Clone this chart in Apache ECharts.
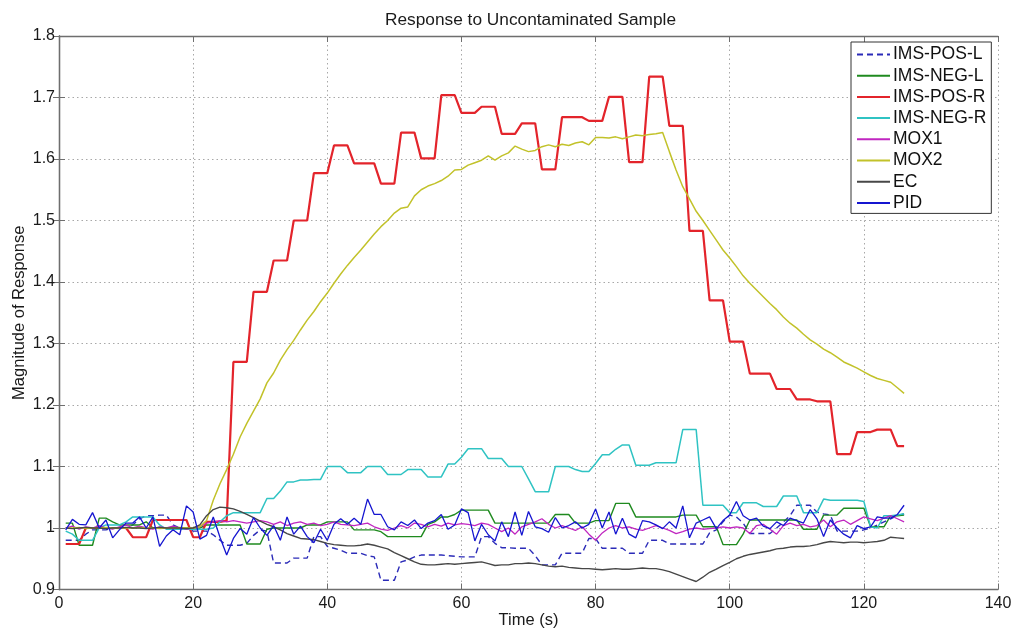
<!DOCTYPE html>
<html>
<head>
<meta charset="utf-8">
<title>Response to Uncontaminated Sample</title>
<script src="https://cdn.jsdelivr.net/npm/echarts@6/dist/echarts.min.js"></script>
<style>
  html, body { margin: 0; padding: 0; background: #fff; }
  #chart { width: 1015px; height: 633px; }
</style>
</head>
<body>
<div id="chart"></div>
<script>
// sample times (s), one reading per second
const times = Array.from({ length: 126 }, (_, i) => i + 1);

const seriesNames = ["IMS-POS-L", "IMS-NEG-L", "IMS-POS-R", "IMS-NEG-R", "MOX1", "MOX2", "EC", "PID"];
const xTicks = [0, 20, 40, 60, 80, 100, 120, 140];
const yTicks = [0.9, 1, 1.1, 1.2, 1.3, 1.4, 1.5, 1.6, 1.7, 1.8];

const imsPosL = [
  0.98, 0.98, 0.98, 0.99, 0.997, 0.997, 0.997, 1.0, 1.0, 1.0,
  1.005, 1.015, 1.02, 1.02, 1.021, 1.021, 1.005, 1.0, 1.0, 0.995,
  0.995, 0.995, 0.989, 0.98, 0.972, 0.972, 0.972, 0.975, 0.988, 0.997,
  0.995, 0.943, 0.943, 0.943, 0.951, 0.951, 0.951, 0.986, 0.986, 0.97,
  0.967, 0.964, 0.959, 0.959, 0.959, 0.955, 0.953, 0.915, 0.915, 0.915,
  0.945, 0.948, 0.953, 0.956, 0.956, 0.956, 0.956, 0.955, 0.954, 0.953,
  0.953, 0.953, 0.986, 0.986, 0.975, 0.968, 0.968, 0.967, 0.967, 0.967,
  0.955, 0.94, 0.94, 0.94, 0.959, 0.959, 0.959, 0.959, 0.983, 0.983,
  0.967, 0.967, 0.967, 0.967, 0.959, 0.959, 0.959, 0.98, 0.98, 0.98,
  0.974, 0.974, 0.974, 0.974, 0.974, 0.974, 0.992, 0.997, 1.01, 1.021,
  1.018, 1.008, 0.991, 0.991, 0.991, 0.991, 1.0, 1.01, 1.02, 1.037,
  1.037, 1.037, 1.026, 1.023, 1.021, 0.995, 0.995, 0.995, 0.995, 0.997,
  1.0, 1.005, 1.01, 1.015, 1.02, 1.023
];

const imsNegL = [
  1.008, 1.008, 0.972, 0.972, 0.972, 1.016, 1.016, 1.01, 1.005, 1.005,
  1.005, 1.005, 1.01, 1.0, 1.0, 1.0, 1.0, 1.0, 1.0, 1.0,
  1.0, 1.005, 1.005, 1.005, 1.005, 1.005, 1.005, 0.974, 0.974, 0.974,
  0.998, 1.0, 1.0, 1.0, 1.0, 1.0, 1.005, 1.005, 1.005, 1.01,
  1.01, 1.01, 1.01, 0.997, 0.997, 0.997, 0.997, 0.994, 0.986, 0.986,
  0.986, 0.986, 0.986, 0.986, 1.006, 1.01, 1.018, 1.018, 1.022, 1.029,
  1.029, 1.029, 1.029, 1.029, 1.008, 1.008, 1.008, 1.008, 1.008, 1.008,
  1.008, 1.008, 1.008, 1.022, 1.022, 1.022, 1.008, 1.008, 1.008, 1.012,
  1.012, 1.012, 1.04, 1.04, 1.04, 1.018, 1.018, 1.018, 1.018, 1.018,
  1.018, 1.018, 1.021, 1.021, 1.021, 1.002, 1.002, 1.002, 0.973, 0.973,
  0.973, 0.99, 1.013, 1.013, 1.013, 1.013, 1.013, 1.013, 1.013, 1.013,
  0.998, 0.998, 0.998, 1.021, 1.021, 1.021, 1.032, 1.032, 1.032, 1.032,
  1.002, 1.002, 1.002, 1.02, 1.02, 1.021
];

const imsPosR = [
  0.974, 0.974, 0.974, 1.0, 1.0, 1.0, 1.0, 1.0, 1.0, 1.0,
  0.985, 0.985, 0.985, 1.013, 1.013, 1.013, 1.013, 1.013, 1.013, 0.985,
  0.985, 1.01, 1.01, 1.01, 1.012, 1.27, 1.27, 1.27, 1.384, 1.384,
  1.384, 1.435, 1.435, 1.435, 1.5, 1.5, 1.5, 1.577, 1.577, 1.577,
  1.622, 1.622, 1.622, 1.593, 1.593, 1.593, 1.593, 1.56, 1.56, 1.56,
  1.643, 1.643, 1.643, 1.601, 1.601, 1.601, 1.704, 1.704, 1.704, 1.675,
  1.675, 1.675, 1.685, 1.685, 1.685, 1.641, 1.641, 1.641, 1.658, 1.658,
  1.658, 1.583, 1.583, 1.583, 1.668, 1.668, 1.668, 1.668, 1.662, 1.662,
  1.662, 1.701, 1.701, 1.701, 1.595, 1.595, 1.595, 1.734, 1.734, 1.734,
  1.654, 1.654, 1.654, 1.483, 1.483, 1.483, 1.37, 1.37, 1.37, 1.303,
  1.303, 1.303, 1.251, 1.251, 1.251, 1.251, 1.226, 1.226, 1.226, 1.209,
  1.209, 1.209, 1.206, 1.206, 1.206, 1.12, 1.12, 1.12, 1.156, 1.156,
  1.156, 1.16, 1.16, 1.16, 1.133, 1.133
];

const imsNegR = [
  0.995, 0.99, 0.98, 0.98, 0.98, 1.0, 1.005, 1.005, 1.005, 1.01,
  1.018, 1.018, 1.018, 1.018, 1.005, 0.998, 0.998, 0.998, 0.998, 0.998,
  0.998, 0.998, 1.0, 1.01, 1.02, 1.025, 1.025, 1.025, 1.025, 1.025,
  1.048, 1.048, 1.06, 1.075, 1.075, 1.078, 1.078, 1.079, 1.079, 1.1,
  1.1, 1.1, 1.09, 1.09, 1.09, 1.1, 1.1, 1.1, 1.087, 1.087,
  1.087, 1.095, 1.095, 1.095, 1.083, 1.083, 1.083, 1.104, 1.104, 1.115,
  1.129, 1.129, 1.129, 1.113, 1.113, 1.113, 1.1, 1.1, 1.1, 1.08,
  1.059, 1.059, 1.059, 1.1, 1.1, 1.1, 1.095, 1.092, 1.092, 1.105,
  1.119, 1.119, 1.128, 1.135, 1.135, 1.102, 1.102, 1.102, 1.106, 1.106,
  1.106, 1.106, 1.16, 1.16, 1.16, 1.037, 1.037, 1.037, 1.037, 1.025,
  1.025, 1.041, 1.041, 1.041, 1.035, 1.035, 1.035, 1.052, 1.052, 1.052,
  1.025, 1.025, 1.025, 1.047, 1.045, 1.045, 1.045, 1.045, 1.045, 1.043,
  1.002, 1.0, 1.02, 1.02, 1.021, 1.023
];

const mox1 = [
  1.0, 1.003, 0.998, 1.002, 1.0, 1.004, 1.0, 0.998, 1.002, 1.005,
  1.0, 1.003, 1.0, 0.998, 1.002, 1.0, 1.003, 1.0, 0.998, 1.0,
  1.002, 1.008, 1.01, 1.012, 1.01, 1.012, 1.01, 1.008, 1.01, 1.012,
  1.01, 1.006, 1.01, 1.004, 1.008, 1.01, 1.006, 1.008, 1.004, 1.006,
  1.01, 1.006, 1.005, 1.004, 1.006, 1.008, 1.002, 0.998, 0.996, 1.0,
  1.004, 1.0, 1.008, 1.006, 1.002, 1.006, 1.003, 1.008, 1.005, 1.007,
  1.006, 1.004, 1.008, 1.006, 1.0, 0.994, 1.0, 0.99, 1.002, 1.006,
  1.01, 1.015, 1.006, 1.0, 1.004, 1.0, 0.996, 1.002, 0.99, 0.98,
  0.992, 1.0, 1.004, 1.0, 1.002, 0.998, 0.996, 1.0, 1.004, 1.0,
  0.996, 0.991, 0.994, 0.998, 1.0, 0.998, 0.999, 1.0, 1.002, 1.0,
  1.002, 1.0, 0.991, 1.004, 1.006, 0.998, 0.99, 1.004, 1.008, 1.004,
  1.006, 1.002, 1.004, 1.013, 1.002, 1.01, 1.013, 1.006, 1.012, 1.018,
  1.015, 1.012, 1.016, 1.02, 1.015, 1.01
];

const mox2 = [
  1.0, 1.0, 1.001, 0.999, 1.0, 1.0, 1.001, 1.0, 0.999, 1.0,
  1.0, 1.001, 1.0, 1.0, 0.999, 1.0, 1.0, 1.001, 1.0, 1.0,
  1.002, 1.012, 1.045, 1.072, 1.095, 1.12, 1.148, 1.17, 1.19, 1.21,
  1.236, 1.252, 1.273, 1.29, 1.305, 1.322, 1.338, 1.352, 1.368, 1.382,
  1.398, 1.413, 1.427, 1.44, 1.452, 1.465, 1.478, 1.49, 1.5, 1.512,
  1.52, 1.522, 1.54, 1.55, 1.556, 1.56, 1.565, 1.572, 1.582, 1.583,
  1.59, 1.594, 1.598, 1.605, 1.598, 1.605, 1.61, 1.621, 1.616, 1.612,
  1.614, 1.62, 1.623, 1.62, 1.624, 1.622, 1.626, 1.628, 1.623, 1.635,
  1.635, 1.634, 1.636, 1.633, 1.636, 1.639, 1.638, 1.64, 1.641, 1.643,
  1.612, 1.582, 1.555, 1.535, 1.515, 1.5, 1.484, 1.468, 1.452, 1.439,
  1.425, 1.41, 1.398, 1.387, 1.376, 1.365, 1.355, 1.343, 1.333, 1.325,
  1.315, 1.306, 1.299, 1.291, 1.285, 1.278, 1.27, 1.265, 1.26, 1.254,
  1.248, 1.243, 1.24, 1.237, 1.228, 1.219
];

const ec = [
  1.0, 0.999, 1.0, 1.001, 1.0, 1.0, 0.999, 1.0, 1.0, 1.001,
  1.0, 1.0, 0.999, 1.0, 1.001, 1.0, 1.0, 1.0, 0.999, 1.0,
  1.005, 1.02, 1.03, 1.034, 1.033, 1.031, 1.027, 1.022, 1.017, 1.011,
  1.006, 1.002, 0.997, 0.991, 0.987, 0.983, 0.982, 0.981, 0.978, 0.975,
  0.973, 0.972, 0.971, 0.971, 0.972, 0.974, 0.972, 0.969, 0.966, 0.96,
  0.955, 0.95, 0.945, 0.941, 0.94, 0.94, 0.941, 0.942, 0.941, 0.942,
  0.943, 0.944, 0.945, 0.942, 0.939, 0.94, 0.94, 0.942, 0.942, 0.943,
  0.942, 0.94, 0.938, 0.937, 0.938, 0.936, 0.935, 0.934, 0.934, 0.933,
  0.932, 0.933, 0.934, 0.933, 0.933, 0.934, 0.935, 0.934, 0.934, 0.932,
  0.929, 0.925, 0.921, 0.917, 0.913, 0.92, 0.928, 0.933, 0.939, 0.944,
  0.95, 0.954, 0.957, 0.959, 0.961, 0.963, 0.966, 0.967, 0.969, 0.97,
  0.97, 0.971, 0.973, 0.976, 0.978, 0.977, 0.976, 0.977, 0.977, 0.976,
  0.977, 0.978, 0.98, 0.985, 0.984, 0.983
];

const pid = [
  0.997, 1.014, 1.006, 1.005, 1.025, 1.0, 1.013, 0.984, 0.997, 1.008,
  1.008, 1.018, 1.0, 1.018, 0.97, 0.987, 0.997, 0.989, 1.036, 1.026,
  0.982, 0.988, 1.018, 0.985, 0.956, 0.983, 0.999, 0.99, 1.017, 1.0,
  0.988, 1.004, 0.98, 1.018, 0.99, 1.003, 0.986, 0.976, 0.998, 0.98,
  1.006, 1.015, 1.006, 1.016, 1.006, 1.047, 1.022, 1.022, 1.002, 0.997,
  1.01, 1.004, 1.013, 0.999, 1.008, 1.012, 1.022, 0.998, 1.005, 1.031,
  1.025, 0.979, 1.006, 0.989, 0.979, 1.01, 0.986, 1.026, 0.988, 1.027,
  1.002, 0.999, 0.993, 1.017, 1.0, 1.004, 1.01, 1.0, 1.006, 1.031,
  1.0, 1.026, 0.99, 1.016, 0.99, 0.984, 1.012, 1.01, 1.005, 0.999,
  1.01, 1.0, 1.036, 0.984, 1.008, 1.013, 1.018, 0.999, 1.012, 1.021,
  1.043, 1.02, 1.013, 1.016, 1.003, 0.999, 1.01, 1.004, 1.016, 1.012,
  1.008, 1.03, 1.015, 0.986, 1.013, 1.0, 0.99, 0.984, 1.004, 0.999,
  1.002, 1.018, 1.016, 1.016, 1.022, 1.037
];

const seriesValues = [imsPosL, imsNegL, imsPosR, imsNegR, mox1, mox2, ec, pid];
const seriesColors = ["#2b2bb8", "#1f8a1f", "#e3242b", "#2fc3c3", "#c026c0", "#c2c22a", "#474747", "#1515d0"];
const seriesWidths = [1.4, 1.4, 2.2, 1.5, 1.3, 1.5, 1.4, 1.3];
const seriesDash = ["dashed", "solid", "solid", "solid", "solid", "solid", "solid", "solid"];

const FONT = "'Liberation Sans', Arial, Helvetica, sans-serif";
const chart = echarts.init(document.getElementById("chart"), null, { renderer: "canvas" });

const axisLine = { show: true, lineStyle: { color: "#6e6e6e", width: 1.3 } };
const gridLine = { show: true, lineStyle: { color: "#a8a8a8", type: [1.5, 3], width: 1 } };
const tickIn = { show: true, inside: true, length: 6, lineStyle: { color: "#6e6e6e" } };

const option = {
  backgroundColor: "#ffffff",
  animation: false,
  title: {
    text: "Response to Uncontaminated Sample",
    left: 380,
    top: 7,
    textStyle: { fontFamily: FONT, fontSize: 17.3, fontWeight: "normal", color: "#1a1a1a" }
  },
  legend: {
    orient: "vertical",
    left: 851,
    top: 42,
    padding: [2, 5, 0, 5],
    itemWidth: 33,
    itemHeight: 10,
    itemGap: 0.2,
    itemStyle: { opacity: 0 },
    backgroundColor: "#ffffff",
    borderColor: "#333333",
    borderWidth: 1,
    textStyle: { fontFamily: FONT, fontSize: 17.5, color: "#111", lineHeight: 21, padding: [0, 0, 0, -2] },
    data: seriesNames
  },
  grid: { left: 59, top: 36, width: 939, height: 553.5, containLabel: false, outerBoundsMode: "none" },
  xAxis: [
    {
      type: "value", min: 0, max: 140, interval: 20,
      name: "Time (s)", nameLocation: "middle", nameGap: 22, nameMoveOverlap: false,
      nameTextStyle: { fontFamily: FONT, fontSize: 16.5, color: "#1a1a1a" },
      axisLine: axisLine, axisTick: tickIn, splitLine: gridLine,
      axisLabel: {
        fontFamily: FONT, fontSize: 16, color: "#1a1a1a", margin: 6,
        formatter: v => (xTicks.includes(v) ? String(v) : "")
      }
    },
    {
      type: "value", min: 0, max: 140, interval: 20, position: "top",
      axisLine: axisLine, axisTick: tickIn, splitLine: { show: false }, axisLabel: { show: false }
    }
  ],
  yAxis: [
    {
      type: "value", min: 0.9, max: 1.8, interval: 0.1,
      name: "Magnitude of Response", nameLocation: "middle", nameGap: 31, nameMoveOverlap: false,
      nameTextStyle: { fontFamily: FONT, fontSize: 16.5, color: "#1a1a1a" },
      axisLine: axisLine, axisTick: tickIn, splitLine: gridLine,
      axisLabel: {
        fontFamily: FONT, fontSize: 16, color: "#1a1a1a", margin: 4,
        formatter: v => {
          const r = Math.round(v * 10) / 10;
          return yTicks.includes(r) ? (r === 1 ? "1" : r.toFixed(1)) : "";
        }
      }
    },
    {
      type: "value", min: 0.9, max: 1.8, interval: 0.1, position: "right",
      axisLine: axisLine, axisTick: tickIn, splitLine: { show: false }, axisLabel: { show: false }
    }
  ],
  series: seriesNames.map((name, i) => ({
    name: name,
    type: "line",
    xAxisIndex: 0,
    yAxisIndex: 0,
    symbol: "none",
    showSymbol: false,
    smooth: false,
    color: seriesColors[i],
    lineStyle: { color: seriesColors[i], width: seriesWidths[i], type: seriesDash[i] === "dashed" ? [6, 4] : "solid" },
    data: times.map((t, k) => [t, seriesValues[i][k]])
  }))
};

chart.setOption(option);
</script>
</body>
</html>
